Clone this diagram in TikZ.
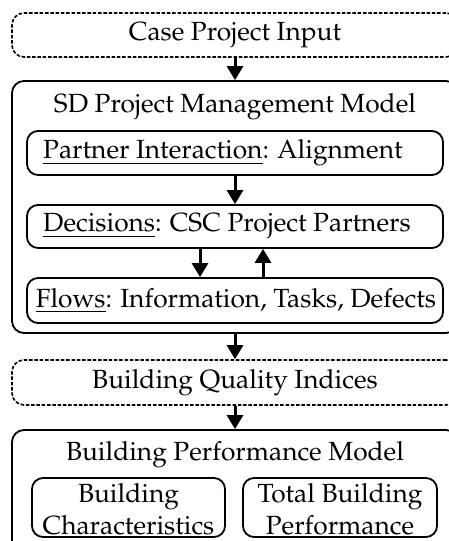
\documentclass[tikz,border=0pt]{standalone}
\usepackage[T1]{fontenc}
\usepackage{mathpazo}
\usetikzlibrary{arrows.meta}
\tikzset{
  box/.style={draw, line width=1.8pt, rounded corners=12pt, inner sep=0pt},
  dashbox/.style={draw, line width=1.6pt, rounded corners=12pt, inner sep=0pt, dash pattern=on 3.5pt off 1.8pt},
  subbox/.style={draw, line width=1.8pt, rounded corners=11pt, inner sep=0pt},
  txt/.style={inner sep=0pt, font=\fontsize{26.3}{32}\selectfont},
  flowarrow/.style={line width=3pt, -{Triangle[width=16pt,length=14pt]}}
}
\begin{document}
\begin{tikzpicture}[x=1pt,y=-1pt]
\useasboundingbox (0,0) rectangle (448,541);
% top-level boxes
\node[dashbox, minimum width=446pt, minimum height=44pt] (case) at (235,35) {};
\node[txt] (casetxt) at (235,35) {Case Project Input};
\node[box, minimum width=446pt, minimum height=252pt] (sd) at (235,207) {};
\node[txt] (sdtxt) at (235,107) {SD Project Management Model};
\node[subbox, minimum width=416pt, minimum height=44pt] (pi) at (235,153) {};
\node[txt, anchor=west] (pitxt) at (43,153) {\underline{Partner Interaction}: Alignment};
\node[subbox, minimum width=416pt, minimum height=43pt] (dec) at (235,226.5) {};
\node[txt, anchor=west] (dectxt) at (43,226.5) {\underline{Decisions}: CSC Project Partners};
\node[subbox, minimum width=416pt, minimum height=45pt] (flows) at (235,300.5) {};
\node[txt] (flowstxt) at (236,300.5) {\underline{Flows}: Information, Tasks, Defects};
\node[dashbox, minimum width=446pt, minimum height=45pt] (bqi) at (235,382.5) {};
\node[txt] (bqitxt) at (235,382.5) {Building Quality Indices};
\node[box, minimum width=446pt, minimum height=124pt] (bpm) at (235,492) {};
\node[txt] (bpmtxt) at (235,455) {Building Performance Model};
\node[subbox, minimum width=193pt, minimum height=59pt] (bc) at (128.5,507.5) {};
\node[txt, align=center] (bctxt) at (128.5,509) {Building\\Characteristics};
\node[subbox, minimum width=194pt, minimum height=59pt] (tbp) at (340,507.5) {};
\node[txt, align=center] (tbptxt) at (340,509) {Total Building\\Performance};
% connectors
\coordinate (dn) at (200,0);
\coordinate (up) at (263,0);
\draw[flowarrow] (case.south) -- (sd.north);
\draw[flowarrow] (pi.south) -- (dec.north);
\draw[flowarrow] (dec.south -| dn) -- (flows.north -| dn);
\draw[flowarrow] (flows.north -| up) -- (dec.south -| up);
\draw[flowarrow] (sd.south) -- (bqi.north);
\draw[flowarrow] (bqi.south) -- (bpm.north);
\end{tikzpicture}
\end{document}
